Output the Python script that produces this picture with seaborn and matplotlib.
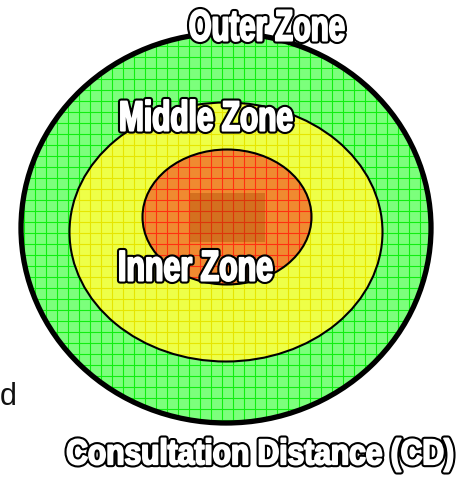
import numpy as np
import matplotlib
matplotlib.use("Agg")
import matplotlib.pyplot as plt
from matplotlib.patches import Ellipse, Rectangle, PathPatch
from matplotlib.textpath import TextPath
from matplotlib.font_manager import FontProperties
from matplotlib.transforms import Affine2D
import seaborn as sns

sns.set_theme(style="white")
plt.rcParams['font.family'] = ['Liberation Sans', 'DejaVu Sans']

zones = ["Outer Zone", "Middle Zone", "Inner Zone"]
fill_colors = ["#7cff7c", "#eeff48", "#f08a30"]
grid_colors = ["#10ee10", "#e6e600", "#ff3010"]
caption = "Consultation Distance (CD)"
side_text = "d"

fig = plt.figure(figsize=(4.71, 4.78), dpi=100)
ax = fig.add_axes([0, 0, 1, 1])
ax.set_xlim(0, 471)
ax.set_ylim(478, 0)
ax.axis("off")

# geometry (center x, center y, width, height, edge lw)
geo = [(226, 228, 410, 390, 3.8), (226, 232, 313, 259, 1.5), (227, 217, 169, 135, 1.5)]

def grid_fill(patch, color, step=11):
    for x in np.arange(2, 471, step):
        l, = ax.plot([x, x], [0, 478], color=color, lw=0.8, zorder=patch.get_zorder() + 0.1)
        l.set_clip_path(patch)
    for y in np.arange(2, 478, step):
        l, = ax.plot([0, 471], [y, y], color=color, lw=0.8, zorder=patch.get_zorder() + 0.1)
        l.set_clip_path(patch)

for i, (name, fc, gc) in enumerate(zip(zones, fill_colors, grid_colors)):
    cx, cy, w, h, lw = geo[i]
    z = 1 + i * 2
    e = Ellipse((cx, cy), w, h, facecolor=fc, edgecolor="none", zorder=z)
    ax.add_patch(e)
    grid_fill(e, gc)
    edge = Ellipse((cx, cy), w, h, facecolor="none", edgecolor="black", lw=lw, zorder=z + 0.5)
    ax.add_patch(edge)

rect = Rectangle((190, 193), 75, 49, facecolor="#a04000", alpha=0.35, edgecolor="none", zorder=6)
ax.add_patch(rect)

fp = FontProperties(family="Liberation Sans", weight="bold")

def outlined(text, x0, x1, ytop, ybot, inset=3):
    x0, x1, ytop, ybot = x0 + inset, x1 - inset, ytop + inset, ybot - inset
    tp = TextPath((0, 0), text, size=100, prop=fp)
    bb = tp.get_extents()
    sx = (x1 - x0) / bb.width
    sy = (ybot - ytop) / bb.height
    tr = Affine2D().translate(-bb.x0, -bb.y1).scale(sx, -sy).translate(x0, ytop)
    path = tr.transform_path(tp)
    ax.add_patch(PathPatch(path, facecolor="black", edgecolor="black", lw=4.4,
                           joinstyle="round", zorder=10))
    ax.add_patch(PathPatch(path, facecolor="white", edgecolor="white", lw=1.4,
                           joinstyle="round", zorder=11))

# label boxes (left, right, top, bottom) in pixels
boxes = [(187, 347, 7, 44), (118, 295, 97, 134), (117, 275, 248, 284)]
for name, b in zip(zones, boxes):
    outlined(name, *b)

outlined(caption, 65, 455, 436, 474, inset=2.5)

ax.text(0, 397, side_text, ha="left", va="center", fontsize=22, color="#111111", zorder=10)

fig.savefig("out.png", dpi=100)
